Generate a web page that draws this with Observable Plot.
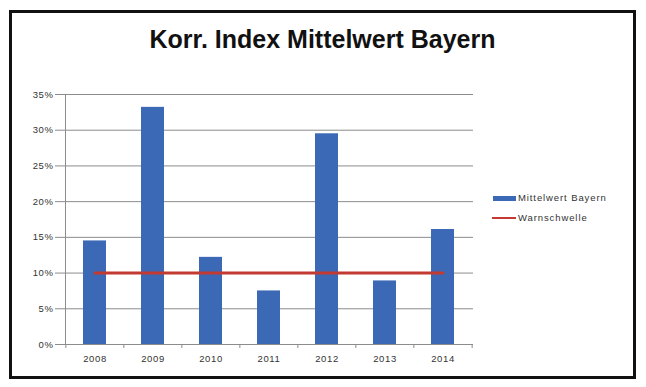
<!DOCTYPE html>
<html><head><meta charset="utf-8">
<script src="https://cdn.jsdelivr.net/npm/d3@7"></script>
<script src="https://cdn.jsdelivr.net/npm/@observablehq/plot@0.6"></script>
<style>
body{margin:0;background:#fff;}
#wrap{position:relative;width:646px;height:387px;overflow:hidden;background:#fff;font-family:"Liberation Sans",Arial,sans-serif;}
#frame{position:absolute;left:9px;top:10px;width:621px;height:363px;border:3px solid #111;}
#title{position:absolute;left:0;top:27px;width:645px;text-align:center;font-family:"Liberation Sans Narrow","Arial Narrow","Liberation Sans",sans-serif;font-weight:bold;font-size:25px;line-height:25px;color:#111;white-space:nowrap;}
#chart{position:absolute;left:0;top:0;}
.lg{position:absolute;font-size:9.5px;letter-spacing:0.9px;color:#333;line-height:12px;white-space:nowrap;}
</style></head>
<body>
<div id="wrap">
  <div id="frame"></div>
  <div id="title">Korr. Index Mittelwert Bayern</div>
  <div id="chart"></div>
  <div style="position:absolute;left:493px;top:196px;width:23px;height:5px;background:#3b69b5"></div>
  <div class="lg" style="left:518px;top:192px">Mittelwert Bayern</div>
  <div style="position:absolute;left:492px;top:217px;width:24px;height:2px;background:#c23a32"></div>
  <div class="lg" style="left:518px;top:212px">Warnschwelle</div>
</div>
<script>
const years = ["2008","2009","2010","2011","2012","2013","2014"];
const mittelwert = [0.145, 0.332, 0.122, 0.075, 0.295, 0.089, 0.161];
const warnschwelle = [0.10, 0.10, 0.10, 0.10, 0.10, 0.10, 0.10];
const yTicks = [0, 0.05, 0.10, 0.15, 0.20, 0.25, 0.30, 0.35];

const data = years.map((y, i) => ({year: y, value: mittelwert[i], warn: warnschwelle[i]}));

const W = 646, H = 387, mL = 65, mR = 173, mT = 94, mB = 43;
const step = (W - mL - mR) / years.length;
const grey = "#8c8c8c";
const blue = "#3b69b5";
const red = "#c23a32";

const chart = Plot.plot({
  width: W, height: H,
  marginLeft: mL, marginRight: mR, marginTop: mT, marginBottom: mB,
  style: {fontFamily: "'Liberation Sans', Arial, sans-serif", fontSize: "9.5px", letterSpacing: "0.6px", color: "#333", background: "transparent", overflow: "visible"},
  x: {type: "band", domain: years, paddingInner: 0.6, paddingOuter: 0.3, axis: null},
  y: {domain: [0, 0.35], axis: null},
  marks: [
    Plot.gridY({ticks: yTicks, stroke: grey, strokeOpacity: 1}),
    Plot.axisY({ticks: yTicks, tickSize: 10, tickPadding: 2, stroke: grey, fill: "#333", tickFormat: d => Math.round(d * 100) + "%", label: null}),
    Plot.frame({anchor: "left", stroke: grey}),
    Plot.barY(data, {x: "year", y: "value", fill: blue}),
    Plot.ruleY([0], {stroke: grey}),
    Plot.axisX({ticks: years, tickSize: 4, stroke: grey, tickFormat: () => "", dx: -step / 2, label: null}),
    Plot.axisX({ticks: [years[years.length - 1]], tickSize: 4, stroke: grey, tickFormat: () => "", dx: step / 2, label: null}),
    Plot.axisX({ticks: years, tickSize: 0, tickPadding: 11, fill: "#333", label: null}),
    Plot.line(data, {x: "year", y: "warn", stroke: red, strokeWidth: 3})
  ]
});
document.getElementById("chart").appendChild(chart);
</script>
</body></html>
